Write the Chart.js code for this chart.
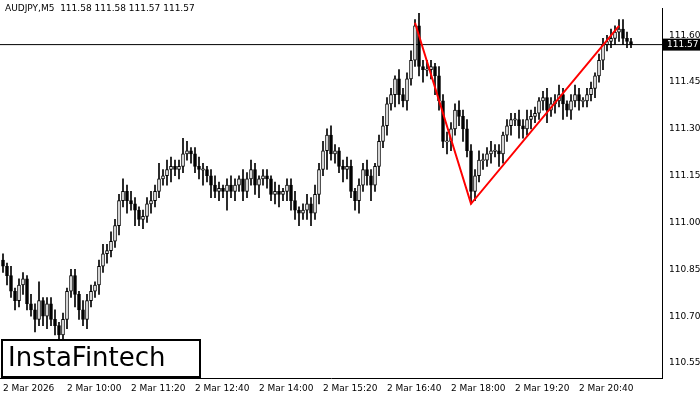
<!DOCTYPE html>
<html><head><meta charset="utf-8">
<script src="https://cdn.jsdelivr.net/npm/chart.js@4/dist/chart.umd.min.js"></script>
<style>html,body{margin:0;background:#fff}#wrap{width:700px;height:400px}</style>
</head><body><div id="wrap"><canvas id="c"></canvas></div>
<script>
// closes per M5 candle, from 2 Mar 08:40
const closes = [110.86,110.83,110.78,110.75,110.80,110.82,110.74,110.72,110.69,110.75,110.70,110.74,110.69,110.67,110.64,110.69,110.78,110.83,110.77,110.72,110.69,110.75,110.78,110.80,110.86,110.90,110.91,110.94,110.99,111.07,111.10,111.07,111.06,111.04,111.01,111.02,111.06,111.07,111.10,111.14,111.15,111.17,111.18,111.17,111.18,111.22,111.23,111.22,111.18,111.17,111.17,111.15,111.12,111.10,111.11,111.10,111.12,111.10,111.12,111.14,111.10,111.14,111.17,111.12,111.14,111.15,111.14,111.09,111.10,111.09,111.10,111.12,111.07,111.04,111.03,111.04,111.06,111.03,111.09,111.17,111.23,111.28,111.22,111.23,111.18,111.17,111.18,111.10,111.07,111.12,111.17,111.15,111.12,111.18,111.26,111.31,111.38,111.41,111.46,111.41,111.39,111.46,111.52,111.63,111.50,111.49,111.49,111.50,111.47,111.39,111.26,111.26,111.30,111.36,111.34,111.30,111.23,111.10,111.15,111.20,111.20,111.22,111.23,111.23,111.22,111.28,111.31,111.33,111.33,111.31,111.30,111.33,111.34,111.35,111.39,111.40,111.36,111.38,111.39,111.41,111.38,111.36,111.39,111.41,111.39,111.39,111.41,111.43,111.47,111.52,111.57,111.58,111.59,111.61,111.62,111.59,111.58,111.57];
const firstOpen = 110.88;
// wick sizes above / below the body, in hundredths
const wickUp = [2,1,3,1,2,2,1,3,2,6,1,2,2,3,1,2,1,2,2,1,3,2,2,1,2,3,2,3,2,2,4,2,3,2,1,2,2,3,2,5,2,3,3,2,2,5,3,1,2,3,2,1,2,3,2,1,2,3,2,1,3,2,3,2,1,2,2,1,3,2,1,2,2,3,1,2,3,2,3,2,3,2,3,2,1,2,3,2,1,2,2,3,2,1,2,3,2,2,1,3,2,2,3,2,4,2,3,2,1,3,2,3,2,2,3,2,3,2,2,3,2,2,3,2,2,1,2,2,2,3,2,3,2,2,1,2,3,2,2,3,2,1,2,3,2,1,2,2,1,2,2,2,3,2,3,3,2,1];
const wickDn = [2,3,2,3,2,3,2,2,4,2,3,4,2,3,4,2,3,2,4,3,2,3,2,2,3,2,3,2,2,3,2,4,2,5,2,3,2,3,2,2,2,3,4,2,3,2,2,3,2,3,5,2,4,2,3,2,6,2,3,2,3,2,2,3,4,2,3,2,3,4,2,3,3,3,4,2,3,4,2,3,2,6,2,3,2,4,3,2,3,4,2,3,5,2,3,2,3,2,4,3,2,3,2,2,3,4,2,3,6,3,2,4,3,2,3,4,2,4,3,2,3,2,3,2,4,3,2,3,2,4,3,2,3,2,2,3,4,2,3,2,5,2,3,2,3,2,2,2,3,2,3,2,2,2,3,2,2,1];
const tickLabels = ['2 Mar 2026','2 Mar 10:00','2 Mar 11:20','2 Mar 12:40','2 Mar 14:00','2 Mar 15:20','2 Mar 16:40','2 Mar 18:00','2 Mar 19:20','2 Mar 20:40'];
const priceTicks = [110.55,110.70,110.85,111.00,111.15,111.30,111.45,111.60];
const patternX = [103,117,154];
const patternY = [111.64,111.06,111.63];
const lastPrice = 111.57;

const wicks = [], bodies = [], colors = [];
closes.forEach((c, i) => {
  const o = i === 0 ? firstOpen : closes[i - 1];
  const hi = Math.max(o, c) + wickUp[i] / 100, lo = Math.min(o, c) - wickDn[i] / 100;
  wicks.push({x: i, y: [lo, hi]});
  bodies.push({x: i, y: o === c ? [o - 0.002, c + 0.002] : [o, c]});
  colors.push(c >= o ? '#fff' : '#000');
});

const overlay = {
  id: 'overlay',
  afterDraw(chart) {
    const ctx = chart.ctx, y = chart.scales.y, a = chart.chartArea;
    ctx.save();
    ctx.font = '9px "DejaVu Sans"';
    ctx.fillStyle = '#000';
    ctx.textBaseline = 'top';
    ctx.fillText('AUDJPY,M5  111.58 111.58 111.57 111.57', 5, 4);
    // last price tag
    const py = y.getPixelForValue(lastPrice);
    ctx.fillRect(a.right + 1, py - 6, 37, 12);
    ctx.fillStyle = '#fff';
    ctx.textBaseline = 'middle';
    ctx.fillText(lastPrice.toFixed(2), a.right + 5, py);
    // logo
    ctx.fillStyle = '#fff';
    ctx.fillRect(2, 340, 198, 37);
    ctx.strokeStyle = '#000'; ctx.lineWidth = 2;
    ctx.strokeRect(2, 340, 198, 37);
    ctx.fillStyle = '#000';
    ctx.font = '26px "DejaVu Sans"';
    ctx.fillText('InstaFintech', 8, 359);
    ctx.restore();
  }
};

new Chart(document.getElementById('c'), {
  data: {
    datasets: [
      {type: 'line', data: patternX.map((x, i) => ({x, y: patternY[i]})), borderColor: '#ff0000', borderWidth: 2, pointRadius: 0, order: 0},
      {type: 'line', data: [{x: -1, y: lastPrice}, {x: 166, y: lastPrice}], borderColor: '#000', borderWidth: 1, pointRadius: 0, order: 3},
      {type: 'bar', data: bodies, backgroundColor: colors, borderColor: '#000', borderWidth: 1, borderSkipped: false, barThickness: 3, grouped: false, order: 1},
      {type: 'bar', data: wicks, backgroundColor: '#000', barThickness: 1, grouped: false, order: 2}
    ]
  },
  options: {
    responsive: true, maintainAspectRatio: false, animation: false,
    layout: {padding: 0},
    plugins: {legend: {display: false}, tooltip: {enabled: false}},
    scales: {
      x: {
        type: 'linear', min: -0.75, max: 164.75, offset: false,
        grid: {display: false, drawTicks: true, tickLength: 4, color: '#000'},
        border: {color: '#000'},
        afterBuildTicks: s => { s.ticks = tickLabels.map((t, i) => ({value: i * 16})); },
        ticks: {autoSkip: false, maxRotation: 0, align: 'start', padding: 1, color: '#000', font: {size: 9, family: 'DejaVu Sans'}, callback: (v, i) => tickLabels[i]},
        afterFit: s => { s.height = 22; }
      },
      y: {
        position: 'right', min: 110.502, max: 111.686,
        grid: {display: false, drawTicks: true, tickLength: 4},
        border: {color: '#000'},
        afterBuildTicks: s => { s.ticks = priceTicks.map(v => ({value: v})); },
        ticks: {color: '#000', padding: 3, font: {size: 9, family: 'DejaVu Sans'}, callback: v => v.toFixed(2)},
        afterFit: s => { s.width = 38; }
      }
    }
  },
  plugins: [overlay]
});
</script></body></html>
